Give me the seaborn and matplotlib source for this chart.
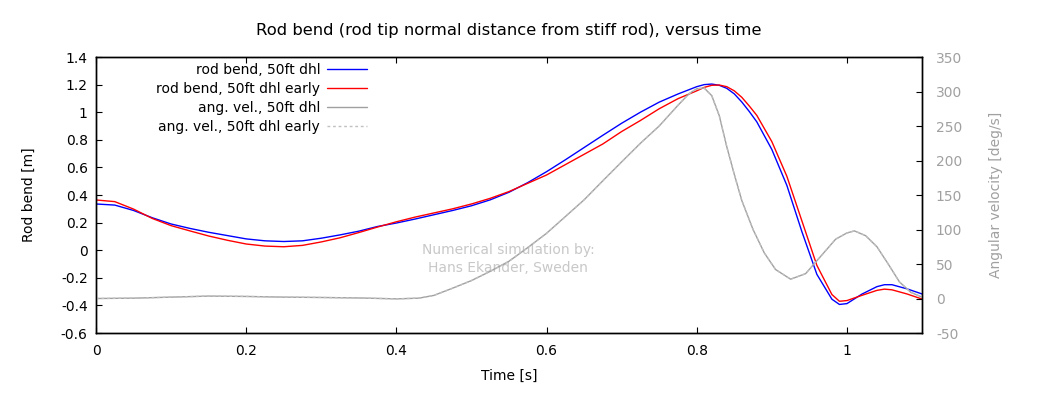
import matplotlib
matplotlib.use('Agg')
import matplotlib.pyplot as plt
from matplotlib.ticker import FuncFormatter
import seaborn as sns

# rod tip bend [m]
t_bend = [0, 0.025, 0.05, 0.075, 0.1, 0.125, 0.15, 0.175, 0.2, 0.225,
          0.25, 0.275, 0.3, 0.325, 0.35, 0.375, 0.4, 0.425, 0.45, 0.475,
          0.5, 0.525, 0.55, 0.575, 0.6, 0.625, 0.65, 0.675, 0.7, 0.725,
          0.75, 0.775, 0.8, 0.81, 0.82, 0.83, 0.84, 0.85, 0.86, 0.87, 0.88,
          0.9, 0.92, 0.94, 0.96, 0.98, 0.99, 1.0, 1.02, 1.04, 1.05, 1.06,
          1.08, 1.1]
bend_dhl = [0.335, 0.327, 0.288, 0.235, 0.19, 0.158, 0.13, 0.106, 0.082, 0.068,
            0.063, 0.068, 0.087, 0.111, 0.138, 0.172, 0.197, 0.226, 0.257, 0.288,
            0.322, 0.365, 0.42, 0.49, 0.569, 0.655, 0.744, 0.833, 0.92, 1.0,
            1.073, 1.132, 1.185, 1.2, 1.204, 1.195, 1.173, 1.133, 1.074, 1.005, 0.93,
            0.73, 0.47, 0.135, -0.175, -0.355, -0.393, -0.387, -0.318, -0.264, -0.25, -0.25,
            -0.28, -0.317]
bend_dhl_early = [0.364, 0.352, 0.298, 0.23, 0.178, 0.14, 0.103, 0.072, 0.045, 0.03,
                  0.025, 0.035, 0.06, 0.09, 0.128, 0.168, 0.206, 0.24, 0.27, 0.3,
                  0.335, 0.376, 0.425, 0.485, 0.545, 0.62, 0.695, 0.77, 0.86, 0.94,
                  1.025, 1.098, 1.155, 1.18, 1.195, 1.197, 1.185, 1.155, 1.108, 1.045, 0.977,
                  0.787, 0.536, 0.213, -0.11, -0.321, -0.37, -0.365, -0.327, -0.291, -0.282, -0.287,
                  -0.317, -0.354]

# angular velocity [deg/s]
t_ang = [0, 0.05, 0.1, 0.15, 0.2, 0.25, 0.3, 0.35, 0.4, 0.43,
         0.45, 0.475, 0.5, 0.525, 0.55, 0.575, 0.6, 0.625, 0.65, 0.675,
         0.7, 0.725, 0.75, 0.775, 0.79, 0.8, 0.81, 0.82, 0.83, 0.84,
         0.85, 0.86, 0.875, 0.89, 0.905, 0.925, 0.945, 0.965, 0.985, 1.0,
         1.01, 1.025, 1.04, 1.055, 1.07, 1.085, 1.1]
ang_dhl = [0, 0.5, 2, 3.5, 3, 2, 1.5, 0.8, -0.5, 0.5,
           4.5, 15, 26, 39.4, 54, 73.8, 94.5, 118.7, 143, 170.7,
           198, 225, 250, 280, 297, 304, 305, 294, 265, 220,
           180, 142, 100, 66, 42, 28, 36, 61, 86, 95,
           98, 91, 75, 50, 24, 9, 2]
ang_dhl_early = [0, 0.5, 2, 3.5, 3, 2, 1.5, 0.8, -0.5, 0.5,
                 4.5, 15, 26, 39.4, 54, 73.8, 94.5, 118.7, 143, 170.7,
                 198, 225, 250, 280, 297, 304, 305, 294, 265, 220,
                 180, 142, 100, 66, 42, 28, 36, 61, 86, 95,
                 98, 91, 75, 50, 24, 9, 2]

bend_ticks = [-0.6, -0.4, -0.2, 0, 0.2, 0.4, 0.6, 0.8, 1.0, 1.2, 1.4]
ang_ticks = [-50, 0, 50, 100, 150, 200, 250, 300, 350]
time_ticks = [0, 0.2, 0.4, 0.6, 0.8, 1.0]


def set_style():
	sns.set_style("white")
	plt.rcParams.update({
		"font.family": ["DejaVu Sans"],
		"font.size": 10,
		"axes.unicode_minus": False,
		"xtick.direction": "in",
		"ytick.direction": "in",
		"axes.linewidth": 1.0,
		"axes.edgecolor": "black",
		"text.color": "black",
		"axes.labelcolor": "black",
		"xtick.color": "black",
		"ytick.color": "black",
	})


def fmt(v, pos):
	return '%g' % round(v, 6)


if __name__ == '__main__':
	set_style()

	fig, ax = plt.subplots(figsize=(10.39, 3.94), dpi=100)
	fig.subplots_adjust(left=0.0924, right=0.8874, bottom=0.1548, top=0.8553)
	ax2 = ax.twinx()

	sns.lineplot(x=t_bend, y=bend_dhl, ax=ax, color='#0000ff', linewidth=1,
				 estimator=None, label='rod bend, 50ft dhl')
	sns.lineplot(x=t_bend, y=bend_dhl_early, ax=ax, color='#ff0000', linewidth=1,
				 estimator=None, label='rod bend, 50ft dhl early')
	sns.lineplot(x=t_ang, y=ang_dhl, ax=ax2, color='#a0a0a0', linewidth=1,
				 estimator=None, label='ang. vel., 50ft dhl')
	sns.lineplot(x=t_ang, y=ang_dhl_early, ax=ax2, color='#c0c0c0', linewidth=1,
				 linestyle=(0, (2, 2)), estimator=None, label='ang. vel., 50ft dhl early')

	ax.set_xlim(0, 1.1)
	ax.set_ylim(-0.6, 1.4)
	ax2.set_ylim(-50, 350)
	ax.set_xticks(time_ticks)
	ax.set_yticks(bend_ticks)
	ax2.set_yticks(ang_ticks)
	ax.xaxis.set_major_formatter(FuncFormatter(fmt))
	ax.yaxis.set_major_formatter(FuncFormatter(fmt))

	ax.tick_params(axis='x', top=True, bottom=True, length=4, width=0.8, pad=8, labelsize=10)
	ax.tick_params(axis='y', left=True, right=False, length=4, width=0.8, pad=6, labelsize=10)
	ax2.tick_params(axis='y', right=True, length=4, width=0.8, pad=10, labelsize=10,
					labelcolor='#a0a0a0')

	ax.set_xlabel('Time [s]', labelpad=8)
	ax.set_ylabel('Rod bend [m]', labelpad=18)
	ax2.set_ylabel('Angular velocity [deg/s]', color='#a0a0a0', labelpad=19)
	ax.set_title('Rod bend (rod tip normal distance from stiff rod), versus time',
				 fontsize=11.8, pad=16)

	ax.text(0.499, 0.268, 'Numerical simulation by:\nHans Ekander, Sweden',
			transform=ax.transAxes, ha='center', va='center', multialignment='center',
			color='#c8c8c8', fontsize=10, linespacing=1.35)

	h1, l1 = ax.get_legend_handles_labels()
	h2, l2 = ax2.get_legend_handles_labels()
	ax.get_legend().remove()
	ax2.legend(h1 + h2, l1 + l2, loc='upper right', bbox_to_anchor=(0.342, 1.018),
			   frameon=False, markerfirst=False, handlelength=2.9, handletextpad=0.5,
			   labelspacing=0.36, borderpad=0.3, fontsize=10)

	plt.savefig('out.png', dpi=100)
